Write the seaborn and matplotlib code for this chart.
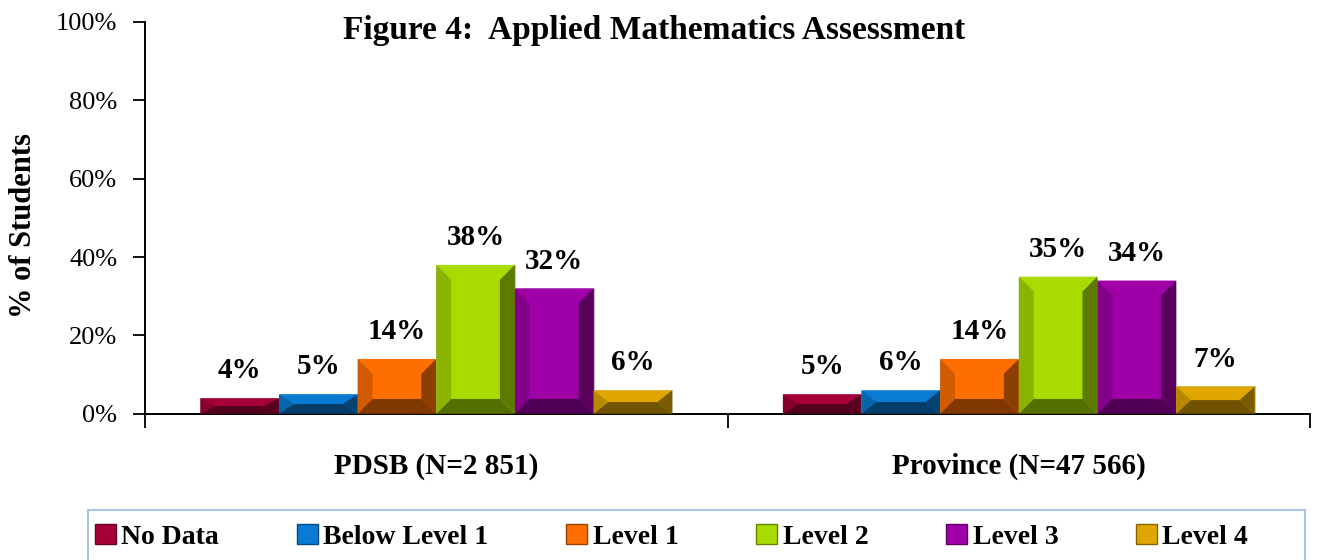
import matplotlib
matplotlib.use('Agg')
import matplotlib.pyplot as plt
import matplotlib.colors as mcolors
from matplotlib.patches import Polygon, Patch, Rectangle
import seaborn as sns
import pandas as pd

# data
groups = ['PDSB (N=2 851)', 'Province (N=47 566)']
levels = ['No Data', 'Below Level 1', 'Level 1', 'Level 2', 'Level 3', 'Level 4']
pdsb_vals = [4, 5, 14, 38, 32, 6]
province_vals = [5, 6, 14, 35, 34, 7]
level_colors = ['#A6003A', '#0A7BD2', '#FF6F00', '#A8DC00', '#A000A8', '#E0A600']
y_ticks = [0, 20, 40, 60, 80, 100]

df = pd.DataFrame({
    'group': [groups[0]] * len(levels) + [groups[1]] * len(levels),
    'level': levels * 2,
    'value': pdsb_vals + province_vals,
})

sns.set_style('white')
plt.rcParams['font.family'] = ['Liberation Serif', 'DejaVu Serif']
plt.rcParams.update({'text.color': 'black', 'axes.labelcolor': 'black',
                     'xtick.color': 'black', 'ytick.color': 'black'})

fig = plt.figure(figsize=(13.3, 5.6), dpi=100)
ax = fig.add_axes([0.109, 0.261, 0.876, 0.70])

sns.barplot(data=df, x='group', y='value', hue='level', hue_order=levels,
            palette=level_colors, width=0.81, saturation=1, legend=False,
            edgecolor='#C8C8C8', linewidth=0.6, ax=ax)


def shade(c, f):
    r, g, b = mcolors.to_rgb(c)
    return (r * f, g * f, b * f)


# bevel effect built from each bar's own geometry
for cont, col in zip(ax.containers, level_colors):
    for bar in cont:
        x, w, h = bar.get_x(), bar.get_width(), bar.get_height()
        dx = w * 0.19
        dy = min(3.8, h / 2)
        pieces = [
            ([(x, h), (x + w, h), (x + w - dx, h - dy), (x + dx, h - dy)], shade(col, 1.0)),
            ([(x, 0), (x, h), (x + dx, h - dy), (x + dx, dy)], shade(col, 0.82)),
            ([(x + w, 0), (x + w, h), (x + w - dx, h - dy), (x + w - dx, dy)], shade(col, 0.55)),
            ([(x, 0), (x + w, 0), (x + w - dx, dy), (x + dx, dy)], shade(col, 0.5)),
        ]
        for pts, fc in pieces:
            ax.add_patch(Polygon(pts, closed=True, facecolor=fc, edgecolor='none', zorder=3))
    ax.bar_label(cont, labels=[f'{int(v)}%' for v in cont.datavalues], padding=10,
                 fontsize=21, fontweight='bold', zorder=4)

ax.set_ylim(0, 100)
ax.set_xlim(-0.5, 1.5)
ax.set_yticks(y_ticks)
ax.set_yticklabels([f'{t}%' for t in y_ticks], fontsize=19)
ax.set_xticks([-0.5, 0.5, 1.5], minor=True)
ax.tick_params(axis='x', which='major', length=0, pad=28, labelsize=21)
ax.tick_params(axis='x', which='minor', length=10, width=1.3, direction='out', bottom=True)
ax.tick_params(axis='y', length=9, width=1.3, direction='out', left=True, pad=11)
for lab in ax.get_xticklabels():
    lab.set_fontweight('bold')
ax.set_xlabel('')
ax.set_ylabel('% of Students', fontsize=22, fontweight='bold')
ax.yaxis.set_label_coords(-0.092, 0.48)
sns.despine(ax=ax)
for s in ['left', 'bottom']:
    ax.spines[s].set_color('black')
    ax.spines[s].set_linewidth(1.4)

fig.text(0.492, 0.946, 'Figure 4:  Applied Mathematics Assessment',
         ha='center', va='center', fontsize=24, fontweight='bold')

# legend box
fig.patches.append(Rectangle((0.066, -0.1), 0.915, 0.189, transform=fig.transFigure,
                             facecolor='white', edgecolor='#A9C4E8', linewidth=1.5))
handles = [Patch(facecolor=c, edgecolor=shade(c, 0.6)) for c in level_colors]
fig.legend(handles, levels, loc='center', ncol=6, bbox_to_anchor=(0.505, 0.041),
           frameon=False, prop={'weight': 'bold', 'size': 20}, handlelength=0.75,
           handleheight=0.75, handletextpad=0.2, columnspacing=2.8)

fig.savefig('out.png', dpi=100)
